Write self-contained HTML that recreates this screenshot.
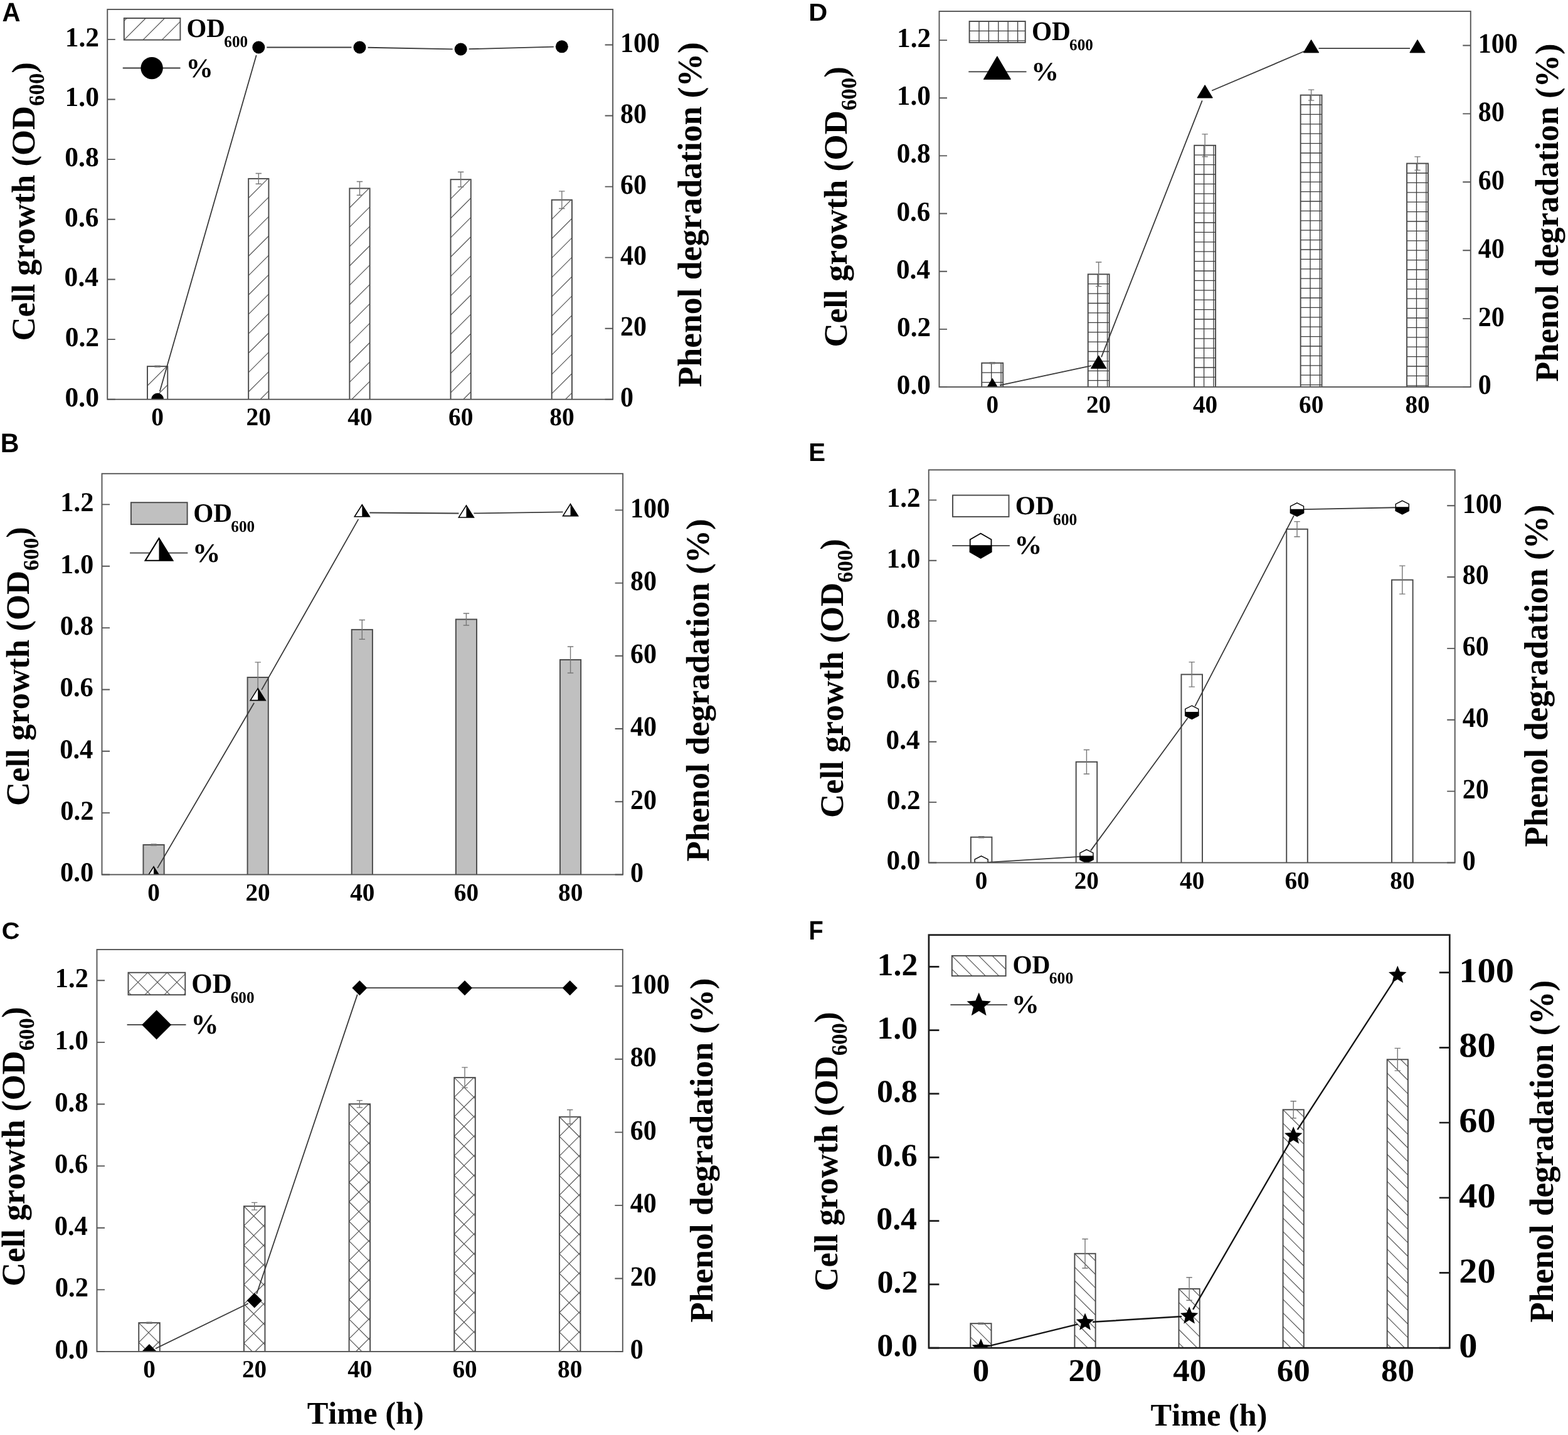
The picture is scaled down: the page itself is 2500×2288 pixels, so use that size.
<!DOCTYPE html>
<html><head><meta charset="utf-8"><title>Figure</title>
<style>
html,body{margin:0;padding:0;background:#fff;}
body{width:2500px;height:2288px;overflow:hidden;}
svg{display:block;}
text{font-kerning:none;text-rendering:geometricPrecision;}
.s{font-family:"Liberation Serif","Times New Roman",serif;font-weight:bold;font-size:100px;fill:#000;}
.a{font-family:"Liberation Sans",Arial,sans-serif;font-weight:bold;font-size:100px;fill:#000;}
</style></head><body>
<svg xmlns="http://www.w3.org/2000/svg" width="2500" height="2288" viewBox="0 0 2500 2288"><defs><clipPath id="clip0"><rect x="171.25" y="15" width="805.85" height="621.75"/></clipPath><clipPath id="clip1"><rect x="162.5" y="755.25" width="830.6" height="639.25"/></clipPath><clipPath id="clip2"><rect x="154.5" y="1514" width="838.3" height="641"/></clipPath><clipPath id="clip3"><rect x="1497.5" y="18" width="847.25" height="599"/></clipPath><clipPath id="clip4"><rect x="1480.75" y="749.25" width="838.9499999999998" height="626.25"/></clipPath><clipPath id="clip5"><rect x="1480.9" y="1490.7" width="830.4000000000001" height="658.4999999999998"/></clipPath></defs><rect width="2500" height="2288" fill="#fff"/><g clip-path="url(#clip0)">
<rect x="235.02" y="584.14" width="32.23" height="52.61" fill="#fff"/>
<path d="M235.02,615.04L265.92,584.14M244.21,636.75L267.25,613.71" stroke="#585858" stroke-width="1.2" fill="none"/>
<rect x="235.02" y="584.14" width="32.23" height="55.61" fill="none" stroke="#484848" stroke-width="1.9"/>
<path d="M251.14,583.18L251.14,585.10M246.44,583.18L255.84,583.18M246.44,585.10L255.84,585.10" stroke="#777" stroke-width="1.4" fill="none"/>
<rect x="396.19" y="284.89" width="32.23" height="351.86" fill="#fff"/>
<path d="M396.19,315.79L427.09,284.89M396.19,346.69L428.42,314.45M396.19,377.59L428.42,345.35M396.19,408.49L428.42,376.25M396.19,439.39L428.42,407.15M396.19,470.29L428.42,438.05M396.19,501.19L428.42,468.95M396.19,532.09L428.42,499.85M396.19,562.99L428.42,530.75M396.19,593.89L428.42,561.65M396.19,624.79L428.42,592.55M415.12,636.75L428.42,623.45" stroke="#585858" stroke-width="1.2" fill="none"/>
<rect x="396.19" y="284.89" width="32.23" height="354.86" fill="none" stroke="#484848" stroke-width="1.9"/>
<path d="M412.31,276.52L412.31,293.26M407.61,276.52L417.00,276.52M407.61,293.26L417.00,293.26" stroke="#777" stroke-width="1.4" fill="none"/>
<rect x="557.36" y="300.38" width="32.23" height="336.37" fill="#fff"/>
<path d="M557.36,331.28L588.26,300.38M557.36,362.18L589.59,329.95M557.36,393.08L589.59,360.85M557.36,423.98L589.59,391.75M557.36,454.88L589.59,422.65M557.36,485.78L589.59,453.55M557.36,516.68L589.59,484.45M557.36,547.58L589.59,515.35M557.36,578.48L589.59,546.25M557.36,609.38L589.59,577.15M560.89,636.75L589.59,608.05" stroke="#585858" stroke-width="1.2" fill="none"/>
<rect x="557.36" y="300.38" width="32.23" height="339.37" fill="none" stroke="#484848" stroke-width="1.9"/>
<path d="M573.47,289.48L573.47,311.29M568.77,289.48L578.17,289.48M568.77,311.29L578.17,311.29" stroke="#777" stroke-width="1.4" fill="none"/>
<rect x="718.53" y="286.18" width="32.23" height="350.57" fill="#fff"/>
<path d="M718.53,317.08L749.43,286.18M718.53,347.98L750.76,315.74M718.53,378.88L750.76,346.64M718.53,409.78L750.76,377.54M718.53,440.68L750.76,408.44M718.53,471.58L750.76,439.34M718.53,502.48L750.76,470.24M718.53,533.38L750.76,501.14M718.53,564.28L750.76,532.04M718.53,595.18L750.76,562.94M718.53,626.08L750.76,593.84M738.76,636.75L750.76,624.74" stroke="#585858" stroke-width="1.2" fill="none"/>
<rect x="718.53" y="286.18" width="32.23" height="353.57" fill="none" stroke="#484848" stroke-width="1.9"/>
<path d="M734.64,274.32L734.64,298.04M729.94,274.32L739.35,274.32M729.94,298.04L739.35,298.04" stroke="#777" stroke-width="1.4" fill="none"/>
<rect x="879.70" y="318.70" width="32.23" height="318.05" fill="#fff"/>
<path d="M879.70,349.60L910.60,318.70M879.70,380.50L911.93,348.27M879.70,411.40L911.93,379.17M879.70,442.30L911.93,410.07M879.70,473.20L911.93,440.97M879.70,504.10L911.93,471.87M879.70,535.00L911.93,502.77M879.70,565.90L911.93,533.67M879.70,596.80L911.93,564.57M879.70,627.70L911.93,595.47M901.55,636.75L911.93,626.37" stroke="#585858" stroke-width="1.2" fill="none"/>
<rect x="879.70" y="318.70" width="32.23" height="321.05" fill="none" stroke="#484848" stroke-width="1.9"/>
<path d="M895.81,304.83L895.81,332.57M891.11,304.83L900.51,304.83M891.11,332.57L900.51,332.57" stroke="#777" stroke-width="1.4" fill="none"/>
<path d="M254.72,624.25L408.72,87.97M425.31,75.48L560.47,75.48M586.47,75.73L721.65,78.29M747.64,78.19L882.82,74.69" stroke="#3a3a3a" stroke-width="1.8" fill="none"/>
<circle cx="251.14" cy="636.75" r="10.00" fill="#000"/>
<circle cx="412.31" cy="75.48" r="10.00" fill="#000"/>
<circle cx="573.47" cy="75.48" r="10.00" fill="#000"/>
<circle cx="734.64" cy="78.53" r="10.00" fill="#000"/>
<circle cx="895.81" cy="74.35" r="10.00" fill="#000"/>
</g>
<rect x="171.25" y="15" width="805.85" height="621.75" fill="none" stroke="#555" stroke-width="1.9"/>
<path d="M171.25,636.75L183.75,636.75M171.25,541.10L183.75,541.10M171.25,445.44L183.75,445.44M171.25,349.79L183.75,349.79M171.25,254.13L183.75,254.13M171.25,158.48L183.75,158.48M171.25,62.83L183.75,62.83M977.10,636.75L964.60,636.75M977.10,523.70L964.60,523.70M977.10,410.66L964.60,410.66M977.10,297.61L964.60,297.61M977.10,184.57L964.60,184.57M977.10,71.52L964.60,71.52" stroke="#555" stroke-width="1.9" fill="none"/>
<text class="s" transform="matrix(0.43600,0,0,0.43900,103.46,647.74)">0.0</text>
<text class="s" transform="matrix(0.43600,0,0,0.43900,103.67,552.08)">0.2</text>
<text class="s" transform="matrix(0.43600,0,0,0.43900,102.61,456.43)">0.4</text>
<text class="s" transform="matrix(0.43600,0,0,0.43900,103.08,360.78)">0.6</text>
<text class="s" transform="matrix(0.43600,0,0,0.43900,103.25,265.12)">0.8</text>
<text class="s" transform="matrix(0.43600,0,0,0.43900,103.46,169.47)">1.0</text>
<text class="s" transform="matrix(0.43600,0,0,0.43900,103.67,73.75)">1.2</text>
<text class="s" transform="matrix(0.42000,0,0,0.44700,989.10,648.20)">0</text>
<text class="s" transform="matrix(0.42000,0,0,0.44700,989.10,535.15)">20</text>
<text class="s" transform="matrix(0.42000,0,0,0.44700,989.10,422.10)">40</text>
<text class="s" transform="matrix(0.42000,0,0,0.44700,989.10,309.06)">60</text>
<text class="s" transform="matrix(0.42000,0,0,0.44700,989.10,196.01)">80</text>
<text class="s" transform="matrix(0.42000,0,0,0.44700,989.10,82.97)">100</text>
<text class="s" transform="matrix(0.39500,0,0,0.40200,241.26,677.92)">0</text>
<text class="s" transform="matrix(0.39500,0,0,0.40200,392.48,677.92)">20</text>
<text class="s" transform="matrix(0.39500,0,0,0.40200,554.21,677.92)">40</text>
<text class="s" transform="matrix(0.39500,0,0,0.40200,714.97,677.92)">60</text>
<text class="s" transform="matrix(0.39500,0,0,0.40200,876.16,677.92)">80</text>
<g transform="matrix(0,-0.52697,0.52680,0,54.95,543.57)"><text class="s" x="0" y="0">Cell growth (OD</text><text class="s" x="710.99" y="28.3" style="font-size:66.0px">600</text><text class="s" x="809.99" y="0">)</text></g>
<text class="s" transform="matrix(0,-0.53510,0.54344,0,1118.01,617.21)">Phenol degradation (%)</text>
<text class="a" transform="matrix(0.40095,0,0,0.42588,3.40,33.70)">A</text>
<rect x="197.8" y="29" width="89.59999999999997" height="34.6" fill="#fff"/>
<path d="M197.80,33.40L202.20,29.00M197.80,63.60L232.40,29.00M228.00,63.60L262.60,29.00M258.20,63.60L287.40,34.40" stroke="#585858" stroke-width="1.2" fill="none"/>
<rect x="197.8" y="29" width="89.59999999999997" height="34.6" fill="none" stroke="#484848" stroke-width="1.9"/>
<text class="s" transform="matrix(0.40860,0,0,0.42270,297.40,59.29)">OD</text>
<text class="s" transform="matrix(0.25215,0,0,0.26230,357.34,75.44)">600</text>
<path d="M195.75,108.5L287.5,108.5" stroke="#3a3a3a" stroke-width="1.8"/>
<circle cx="242.10" cy="108.60" r="17.70" fill="#000"/>
<text class="s" transform="matrix(0.43424,0,0,0.42906,296.45,123.03)">%</text>
<g clip-path="url(#clip1)">
<rect x="228.45" y="1347.00" width="33.22" height="47.50" fill="#c0c0c0"/>
<rect x="228.45" y="1347.00" width="33.22" height="50.50" fill="none" stroke="#484848" stroke-width="1.9"/>
<path d="M245.06,1346.02L245.06,1347.98M240.36,1346.02L249.76,1346.02M240.36,1347.98L249.76,1347.98" stroke="#777" stroke-width="1.4" fill="none"/>
<rect x="394.57" y="1079.99" width="33.22" height="314.51" fill="#c0c0c0"/>
<rect x="394.57" y="1079.99" width="33.22" height="317.51" fill="none" stroke="#484848" stroke-width="1.9"/>
<path d="M411.18,1055.89L411.18,1104.08M406.48,1055.89L415.88,1055.89M406.48,1104.08L415.88,1104.08" stroke="#777" stroke-width="1.4" fill="none"/>
<rect x="560.69" y="1003.87" width="33.22" height="390.63" fill="#c0c0c0"/>
<rect x="560.69" y="1003.87" width="33.22" height="393.63" fill="none" stroke="#484848" stroke-width="1.9"/>
<path d="M577.30,988.43L577.30,1019.31M572.60,988.43L582.00,988.43M572.60,1019.31L582.00,1019.31" stroke="#777" stroke-width="1.4" fill="none"/>
<rect x="726.81" y="987.49" width="33.22" height="407.01" fill="#c0c0c0"/>
<rect x="726.81" y="987.49" width="33.22" height="410.01" fill="none" stroke="#484848" stroke-width="1.9"/>
<path d="M743.42,978.00L743.42,996.98M738.72,978.00L748.12,978.00M738.72,996.98L748.12,996.98" stroke="#777" stroke-width="1.4" fill="none"/>
<rect x="892.93" y="1051.96" width="33.22" height="342.54" fill="#c0c0c0"/>
<rect x="892.93" y="1051.96" width="33.22" height="345.54" fill="none" stroke="#484848" stroke-width="1.9"/>
<path d="M909.54,1030.96L909.54,1072.96M904.84,1030.96L914.24,1030.96M904.84,1072.96L914.24,1072.96" stroke="#777" stroke-width="1.4" fill="none"/>
<path d="M251.12,1384.14L405.12,1120.68M417.10,1099.89L571.38,827.87M589.30,817.52L731.42,818.51M755.42,818.43L897.54,816.44" stroke="#3a3a3a" stroke-width="1.8" fill="none"/>
<path d="M245.06,1381.83L257.06,1400.83L233.06,1400.83Z" fill="#fff" stroke="#000" stroke-width="1.6" stroke-linejoin="miter"/><path d="M245.06,1381.83L257.06,1400.83L245.06,1400.83Z" fill="#000"/>
<path d="M411.18,1097.66L423.18,1116.66L399.18,1116.66Z" fill="#fff" stroke="#000" stroke-width="1.6" stroke-linejoin="miter"/><path d="M411.18,1097.66L423.18,1116.66L411.18,1116.66Z" fill="#000"/>
<path d="M577.30,804.76L589.30,823.76L565.30,823.76Z" fill="#fff" stroke="#000" stroke-width="1.6" stroke-linejoin="miter"/><path d="M577.30,804.76L589.30,823.76L577.30,823.76Z" fill="#000"/>
<path d="M743.42,805.93L755.42,824.93L731.42,824.93Z" fill="#fff" stroke="#000" stroke-width="1.6" stroke-linejoin="miter"/><path d="M743.42,805.93L755.42,824.93L743.42,824.93Z" fill="#000"/>
<path d="M909.54,803.60L921.54,822.60L897.54,822.60Z" fill="#fff" stroke="#000" stroke-width="1.6" stroke-linejoin="miter"/><path d="M909.54,803.60L921.54,822.60L909.54,822.60Z" fill="#000"/>
</g>
<rect x="162.5" y="755.25" width="830.6" height="639.25" fill="none" stroke="#555" stroke-width="1.9"/>
<path d="M162.50,1394.50L175.00,1394.50M162.50,1296.15L175.00,1296.15M162.50,1197.81L175.00,1197.81M162.50,1099.46L175.00,1099.46M162.50,1001.12L175.00,1001.12M162.50,902.77L175.00,902.77M162.50,804.42L175.00,804.42M993.10,1394.50L980.60,1394.50M993.10,1278.27L980.60,1278.27M993.10,1162.05L980.60,1162.05M993.10,1045.82L980.60,1045.82M993.10,929.59L980.60,929.59M993.10,813.36L980.60,813.36" stroke="#555" stroke-width="1.9" fill="none"/>
<text class="s" transform="matrix(0.42600,0,0,0.43500,95.97,1405.36)">0.0</text>
<text class="s" transform="matrix(0.42600,0,0,0.43500,96.18,1307.01)">0.2</text>
<text class="s" transform="matrix(0.42600,0,0,0.43500,95.14,1208.66)">0.4</text>
<text class="s" transform="matrix(0.42600,0,0,0.43500,95.60,1110.32)">0.6</text>
<text class="s" transform="matrix(0.42600,0,0,0.43500,95.76,1011.97)">0.8</text>
<text class="s" transform="matrix(0.42600,0,0,0.43500,95.97,913.63)">1.0</text>
<text class="s" transform="matrix(0.42600,0,0,0.43500,96.18,815.22)">1.2</text>
<text class="s" transform="matrix(0.42000,0,0,0.44700,1005.10,1405.95)">0</text>
<text class="s" transform="matrix(0.42000,0,0,0.44700,1005.10,1289.72)">20</text>
<text class="s" transform="matrix(0.42000,0,0,0.44700,1005.10,1173.49)">40</text>
<text class="s" transform="matrix(0.42000,0,0,0.44700,1005.10,1057.26)">60</text>
<text class="s" transform="matrix(0.42000,0,0,0.44700,1005.10,941.04)">80</text>
<text class="s" transform="matrix(0.42000,0,0,0.44700,1005.10,824.81)">100</text>
<text class="s" transform="matrix(0.39300,0,0,0.39500,235.24,1436.34)">0</text>
<text class="s" transform="matrix(0.39300,0,0,0.39500,391.45,1436.34)">20</text>
<text class="s" transform="matrix(0.39300,0,0,0.39500,558.13,1436.34)">40</text>
<text class="s" transform="matrix(0.39300,0,0,0.39500,723.85,1436.34)">60</text>
<text class="s" transform="matrix(0.39300,0,0,0.39500,889.99,1436.34)">80</text>
<g transform="matrix(0,-0.52757,0.52375,0,45.84,1284.98)"><text class="s" x="0" y="0">Cell growth (OD</text><text class="s" x="710.99" y="28.3" style="font-size:66.0px">600</text><text class="s" x="809.99" y="0">)</text></g>
<text class="s" transform="matrix(0,-0.53177,0.52266,0,1129.66,1373.81)">Phenol degradation (%)</text>
<text class="a" transform="matrix(0.41157,0,0,0.43024,0.65,720.50)">B</text>
<rect x="208.9" y="801.2" width="89.70000000000002" height="34.89999999999998" fill="#c0c0c0"/>
<rect x="208.9" y="801.2" width="89.70000000000002" height="34.89999999999998" fill="none" stroke="#484848" stroke-width="1.9"/>
<text class="s" transform="matrix(0.41217,0,0,0.42270,308.29,832.19)">OD</text>
<text class="s" transform="matrix(0.25215,0,0,0.25933,368.34,848.15)">600</text>
<path d="M207.1,881.7L299.3,881.7" stroke="#3a3a3a" stroke-width="1.8"/>
<path d="M253.50,858.23L275.30,893.73L231.70,893.73Z" fill="#fff" stroke="#000" stroke-width="2.2" stroke-linejoin="miter"/><path d="M253.50,858.23L275.30,893.73L253.50,893.73Z" fill="#000"/>
<text class="s" transform="matrix(0.44792,0,0,0.42611,306.81,895.84)">%</text>
<g clip-path="url(#clip2)">
<rect x="221.26" y="2109.14" width="33.53" height="45.86" fill="#fff"/>
<path d="M221.26,2140.34L252.46,2109.14M237.81,2155.00L254.80,2138.01M221.26,2109.14L254.80,2142.68M252.46,2109.14L254.80,2111.48M221.26,2140.34L235.92,2155.00" stroke="#585858" stroke-width="1.2" fill="none"/>
<rect x="221.26" y="2109.14" width="33.53" height="48.86" fill="none" stroke="#484848" stroke-width="1.9"/>
<path d="M238.03,2108.16L238.03,2110.13M233.33,2108.16L242.73,2108.16M233.33,2110.13L242.73,2110.13" stroke="#777" stroke-width="1.4" fill="none"/>
<rect x="388.92" y="1923.25" width="33.53" height="231.75" fill="#fff"/>
<path d="M388.92,1954.45L420.12,1923.25M388.92,1985.65L422.46,1952.12M388.92,2016.85L422.46,1983.32M388.92,2048.05L422.46,2014.52M388.92,2079.25L422.46,2045.72M388.92,2110.45L422.46,2076.92M388.92,2141.65L422.46,2108.12M406.78,2155.00L422.46,2139.32M388.92,1923.25L422.46,1956.79M420.12,1923.25L422.46,1925.59M388.92,1954.45L422.46,1987.99M388.92,1985.65L422.46,2019.19M388.92,2016.85L422.46,2050.39M388.92,2048.05L422.46,2081.59M388.92,2079.25L422.46,2112.79M388.92,2110.45L422.46,2143.99M388.92,2141.65L402.27,2155.00" stroke="#585858" stroke-width="1.2" fill="none"/>
<rect x="388.92" y="1923.25" width="33.53" height="234.75" fill="none" stroke="#484848" stroke-width="1.9"/>
<path d="M405.69,1917.34L405.69,1929.17M400.99,1917.34L410.39,1917.34M400.99,1929.17L410.39,1929.17" stroke="#777" stroke-width="1.4" fill="none"/>
<rect x="556.58" y="1760.24" width="33.53" height="394.76" fill="#fff"/>
<path d="M556.58,1791.44L587.78,1760.24M556.58,1822.64L590.12,1789.11M556.58,1853.84L590.12,1820.31M556.58,1885.04L590.12,1851.51M556.58,1916.24L590.12,1882.71M556.58,1947.44L590.12,1913.91M556.58,1978.64L590.12,1945.11M556.58,2009.84L590.12,1976.31M556.58,2041.04L590.12,2007.51M556.58,2072.24L590.12,2038.71M556.58,2103.44L590.12,2069.91M556.58,2134.64L590.12,2101.11M567.43,2155.00L590.12,2132.31M556.58,1760.24L590.12,1793.77M587.78,1760.24L590.12,1762.57M556.58,1791.44L590.12,1824.97M556.58,1822.64L590.12,1856.17M556.58,1853.84L590.12,1887.37M556.58,1885.04L590.12,1918.57M556.58,1916.24L590.12,1949.77M556.58,1947.44L590.12,1980.97M556.58,1978.64L590.12,2012.17M556.58,2009.84L590.12,2043.37M556.58,2041.04L590.12,2074.57M556.58,2072.24L590.12,2105.77M556.58,2103.44L590.12,2136.97M556.58,2134.64L576.94,2155.00" stroke="#585858" stroke-width="1.2" fill="none"/>
<rect x="556.58" y="1760.24" width="33.53" height="397.76" fill="none" stroke="#484848" stroke-width="1.9"/>
<path d="M573.35,1754.62L573.35,1765.86M568.65,1754.62L578.05,1754.62M568.65,1765.86L578.05,1765.86" stroke="#777" stroke-width="1.4" fill="none"/>
<rect x="724.24" y="1718.13" width="33.53" height="436.87" fill="#fff"/>
<path d="M724.24,1749.33L755.44,1718.13M724.24,1780.53L757.78,1747.00M724.24,1811.73L757.78,1778.20M724.24,1842.93L757.78,1809.40M724.24,1874.13L757.78,1840.60M724.24,1905.33L757.78,1871.80M724.24,1936.53L757.78,1903.00M724.24,1967.73L757.78,1934.20M724.24,1998.93L757.78,1965.40M724.24,2030.13L757.78,1996.60M724.24,2061.33L757.78,2027.80M724.24,2092.53L757.78,2059.00M724.24,2123.73L757.78,2090.20M724.24,2154.93L757.78,2121.40M755.38,2155.00L757.78,2152.60M724.24,1718.13L757.78,1751.67M755.44,1718.13L757.78,1720.47M724.24,1749.33L757.78,1782.87M724.24,1780.53L757.78,1814.07M724.24,1811.73L757.78,1845.27M724.24,1842.93L757.78,1876.47M724.24,1874.13L757.78,1907.67M724.24,1905.33L757.78,1938.87M724.24,1936.53L757.78,1970.07M724.24,1967.73L757.78,2001.27M724.24,1998.93L757.78,2032.47M724.24,2030.13L757.78,2063.67M724.24,2061.33L757.78,2094.87M724.24,2092.53L757.78,2126.07M724.24,2123.73L755.51,2155.00" stroke="#585858" stroke-width="1.2" fill="none"/>
<rect x="724.24" y="1718.13" width="33.53" height="439.87" fill="none" stroke="#484848" stroke-width="1.9"/>
<path d="M741.01,1701.86L741.01,1734.41M736.31,1701.86L745.71,1701.86M736.31,1734.41L745.71,1734.41" stroke="#777" stroke-width="1.4" fill="none"/>
<rect x="891.90" y="1780.75" width="33.53" height="374.25" fill="#fff"/>
<path d="M891.90,1811.95L923.10,1780.75M891.90,1843.15L925.44,1809.62M891.90,1874.35L925.44,1840.82M891.90,1905.55L925.44,1872.02M891.90,1936.75L925.44,1903.22M891.90,1967.95L925.44,1934.42M891.90,1999.15L925.44,1965.62M891.90,2030.35L925.44,1996.82M891.90,2061.55L925.44,2028.02M891.90,2092.75L925.44,2059.22M891.90,2123.95L925.44,2090.42M892.06,2155.00L925.44,2121.62M923.26,2155.00L925.44,2152.82M891.90,1780.75L925.44,1814.29M923.10,1780.75L925.44,1783.09M891.90,1811.95L925.44,1845.49M891.90,1843.15L925.44,1876.69M891.90,1874.35L925.44,1907.89M891.90,1905.55L925.44,1939.09M891.90,1936.75L925.44,1970.29M891.90,1967.95L925.44,2001.49M891.90,1999.15L925.44,2032.69M891.90,2030.35L925.44,2063.89M891.90,2061.55L925.44,2095.09M891.90,2092.75L925.44,2126.29M891.90,2123.95L922.95,2155.00" stroke="#585858" stroke-width="1.2" fill="none"/>
<rect x="891.90" y="1780.75" width="33.53" height="377.25" fill="none" stroke="#484848" stroke-width="1.9"/>
<path d="M908.67,1769.51L908.67,1792.00M903.97,1769.51L913.37,1769.51M903.97,1792.00L913.37,1792.00" stroke="#777" stroke-width="1.4" fill="none"/>
<path d="M247.92,2150.19L395.80,2078.23M409.20,2062.99L569.84,1585.61M584.35,1575.19L730.01,1575.19M752.01,1575.19L897.67,1575.19" stroke="#3a3a3a" stroke-width="1.8" fill="none"/>
<path d="M238.03,2143.00L250.03,2155.00L238.03,2167.00L226.03,2155.00Z" fill="#000"/>
<path d="M405.69,2061.42L417.69,2073.42L405.69,2085.42L393.69,2073.42Z" fill="#000"/>
<path d="M573.35,1563.19L585.35,1575.19L573.35,1587.19L561.35,1575.19Z" fill="#000"/>
<path d="M741.01,1563.19L753.01,1575.19L741.01,1587.19L729.01,1575.19Z" fill="#000"/>
<path d="M908.67,1563.19L920.67,1575.19L908.67,1587.19L896.67,1575.19Z" fill="#000"/>
</g>
<rect x="154.5" y="1514" width="838.3" height="641" fill="none" stroke="#555" stroke-width="1.9"/>
<path d="M154.50,2155.00L167.00,2155.00M154.50,2056.38L167.00,2056.38M154.50,1957.77L167.00,1957.77M154.50,1859.15L167.00,1859.15M154.50,1760.54L167.00,1760.54M154.50,1661.92L167.00,1661.92M154.50,1563.31L167.00,1563.31M992.80,2155.00L980.30,2155.00M992.80,2038.45L980.30,2038.45M992.80,1921.91L980.30,1921.91M992.80,1805.36L980.30,1805.36M992.80,1688.82L980.30,1688.82M992.80,1572.27L980.30,1572.27" stroke="#555" stroke-width="1.9" fill="none"/>
<text class="s" transform="matrix(0.42600,0,0,0.43900,87.47,2165.99)">0.0</text>
<text class="s" transform="matrix(0.42600,0,0,0.43900,87.68,2067.37)">0.2</text>
<text class="s" transform="matrix(0.42600,0,0,0.43900,86.64,1968.76)">0.4</text>
<text class="s" transform="matrix(0.42600,0,0,0.43900,87.10,1870.14)">0.6</text>
<text class="s" transform="matrix(0.42600,0,0,0.43900,87.26,1771.53)">0.8</text>
<text class="s" transform="matrix(0.42600,0,0,0.43900,87.47,1672.91)">1.0</text>
<text class="s" transform="matrix(0.42600,0,0,0.43900,87.68,1574.23)">1.2</text>
<text class="s" transform="matrix(0.42000,0,0,0.44700,1004.80,2166.45)">0</text>
<text class="s" transform="matrix(0.42000,0,0,0.44700,1004.80,2049.90)">20</text>
<text class="s" transform="matrix(0.42000,0,0,0.44700,1004.80,1933.35)">40</text>
<text class="s" transform="matrix(0.42000,0,0,0.44700,1004.80,1816.81)">60</text>
<text class="s" transform="matrix(0.42000,0,0,0.44700,1004.80,1700.26)">80</text>
<text class="s" transform="matrix(0.42000,0,0,0.44700,1004.80,1583.72)">100</text>
<text class="s" transform="matrix(0.39300,0,0,0.39500,228.20,2196.14)">0</text>
<text class="s" transform="matrix(0.39300,0,0,0.39500,385.96,2196.14)">20</text>
<text class="s" transform="matrix(0.39300,0,0,0.39500,554.18,2196.14)">40</text>
<text class="s" transform="matrix(0.39300,0,0,0.39500,721.44,2196.14)">60</text>
<text class="s" transform="matrix(0.39300,0,0,0.39500,889.12,2196.14)">80</text>
<g transform="matrix(0,-0.52817,0.52680,0,38.95,2050.88)"><text class="s" x="0" y="0">Cell growth (OD</text><text class="s" x="710.99" y="28.3" style="font-size:66.0px">600</text><text class="s" x="809.99" y="0">)</text></g>
<text class="s" transform="matrix(0,-0.53451,0.52157,0,1135.69,2108.81)">Phenol degradation (%)</text>
<text class="s" transform="matrix(0.50395,0,0,0.50290,489.71,2270.29)">Time (h)</text>
<text class="a" transform="matrix(0.39767,0,0,0.37782,2.87,1497.13)">C</text>
<rect x="204.5" y="1550.7" width="90.80000000000001" height="35.5" fill="#fff"/>
<path d="M204.50,1581.70L235.50,1550.70M231.00,1586.20L266.50,1550.70M262.00,1586.20L295.30,1552.90M293.00,1586.20L295.30,1583.90M204.50,1550.70L240.00,1586.20M235.50,1550.70L271.00,1586.20M266.50,1550.70L295.30,1579.50M204.50,1581.70L209.00,1586.20" stroke="#585858" stroke-width="1.2" fill="none"/>
<rect x="204.5" y="1550.7" width="90.80000000000001" height="35.5" fill="none" stroke="#484848" stroke-width="1.9"/>
<text class="s" transform="matrix(0.42857,0,0,0.44651,305.31,1582.66)">OD</text>
<text class="s" transform="matrix(0.25215,0,0,0.25933,367.74,1598.75)">600</text>
<path d="M202.6,1633.9L296.5,1633.9" stroke="#3a3a3a" stroke-width="1.8"/>
<path d="M249.60,1610.40L273.10,1633.90L249.60,1657.40L226.10,1633.90Z" fill="#000"/>
<text class="s" transform="matrix(0.44170,0,0,0.44381,304.57,1647.51)">%</text>
<g clip-path="url(#clip3)">
<rect x="1565.28" y="578.76" width="33.89" height="38.24" fill="#fff"/>
<path d="M1565.28,594.16L1599.17,594.16M1565.28,609.56L1599.17,609.56M1580.68,578.76L1580.68,617.00M1596.08,578.76L1596.08,617.00" stroke="#3c3c3c" stroke-width="1.3" fill="none"/>
<rect x="1565.28" y="578.76" width="33.89" height="41.24" fill="none" stroke="#484848" stroke-width="1.9"/>
<path d="M1582.22,577.83L1582.22,579.68M1577.52,577.83L1586.92,577.83M1577.52,579.68L1586.92,579.68" stroke="#777" stroke-width="1.4" fill="none"/>
<rect x="1734.73" y="437.30" width="33.89" height="179.70" fill="#fff"/>
<path d="M1734.73,452.70L1768.62,452.70M1734.73,468.10L1768.62,468.10M1734.73,483.50L1768.62,483.50M1734.73,498.90L1768.62,498.90M1734.73,514.30L1768.62,514.30M1734.73,529.70L1768.62,529.70M1734.73,545.10L1768.62,545.10M1734.73,560.50L1768.62,560.50M1734.73,575.90L1768.62,575.90M1734.73,591.30L1768.62,591.30M1734.73,606.70L1768.62,606.70M1750.13,437.30L1750.13,617.00M1765.53,437.30L1765.53,617.00" stroke="#3c3c3c" stroke-width="1.3" fill="none"/>
<rect x="1734.73" y="437.30" width="33.89" height="182.70" fill="none" stroke="#484848" stroke-width="1.9"/>
<path d="M1751.67,417.95L1751.67,456.65M1746.97,417.95L1756.38,417.95M1746.97,456.65L1756.38,456.65" stroke="#777" stroke-width="1.4" fill="none"/>
<rect x="1904.18" y="231.80" width="33.89" height="385.20" fill="#fff"/>
<path d="M1904.18,247.20L1938.07,247.20M1904.18,262.60L1938.07,262.60M1904.18,278.00L1938.07,278.00M1904.18,293.40L1938.07,293.40M1904.18,308.80L1938.07,308.80M1904.18,324.20L1938.07,324.20M1904.18,339.60L1938.07,339.60M1904.18,355.00L1938.07,355.00M1904.18,370.40L1938.07,370.40M1904.18,385.80L1938.07,385.80M1904.18,401.20L1938.07,401.20M1904.18,416.60L1938.07,416.60M1904.18,432.00L1938.07,432.00M1904.18,447.40L1938.07,447.40M1904.18,462.80L1938.07,462.80M1904.18,478.20L1938.07,478.20M1904.18,493.60L1938.07,493.60M1904.18,509.00L1938.07,509.00M1904.18,524.40L1938.07,524.40M1904.18,539.80L1938.07,539.80M1904.18,555.20L1938.07,555.20M1904.18,570.60L1938.07,570.60M1904.18,586.00L1938.07,586.00M1904.18,601.40L1938.07,601.40M1919.58,231.80L1919.58,617.00M1934.98,231.80L1934.98,617.00" stroke="#3c3c3c" stroke-width="1.3" fill="none"/>
<rect x="1904.18" y="231.80" width="33.89" height="388.20" fill="none" stroke="#484848" stroke-width="1.9"/>
<path d="M1921.12,213.83L1921.12,249.77M1916.42,213.83L1925.83,213.83M1916.42,249.77L1925.83,249.77" stroke="#777" stroke-width="1.4" fill="none"/>
<rect x="2073.63" y="151.62" width="33.89" height="465.38" fill="#fff"/>
<path d="M2073.63,167.02L2107.52,167.02M2073.63,182.42L2107.52,182.42M2073.63,197.82L2107.52,197.82M2073.63,213.22L2107.52,213.22M2073.63,228.62L2107.52,228.62M2073.63,244.02L2107.52,244.02M2073.63,259.42L2107.52,259.42M2073.63,274.82L2107.52,274.82M2073.63,290.22L2107.52,290.22M2073.63,305.62L2107.52,305.62M2073.63,321.02L2107.52,321.02M2073.63,336.42L2107.52,336.42M2073.63,351.82L2107.52,351.82M2073.63,367.22L2107.52,367.22M2073.63,382.62L2107.52,382.62M2073.63,398.02L2107.52,398.02M2073.63,413.42L2107.52,413.42M2073.63,428.82L2107.52,428.82M2073.63,444.22L2107.52,444.22M2073.63,459.62L2107.52,459.62M2073.63,475.02L2107.52,475.02M2073.63,490.42L2107.52,490.42M2073.63,505.82L2107.52,505.82M2073.63,521.22L2107.52,521.22M2073.63,536.62L2107.52,536.62M2073.63,552.02L2107.52,552.02M2073.63,567.42L2107.52,567.42M2073.63,582.82L2107.52,582.82M2073.63,598.22L2107.52,598.22M2073.63,613.62L2107.52,613.62M2089.03,151.62L2089.03,617.00M2104.43,151.62L2104.43,617.00" stroke="#3c3c3c" stroke-width="1.3" fill="none"/>
<rect x="2073.63" y="151.62" width="33.89" height="468.38" fill="none" stroke="#484848" stroke-width="1.9"/>
<path d="M2090.57,143.10L2090.57,160.15M2085.88,143.10L2095.27,143.10M2085.88,160.15L2095.27,160.15" stroke="#777" stroke-width="1.4" fill="none"/>
<rect x="2243.08" y="260.60" width="33.89" height="356.40" fill="#fff"/>
<path d="M2243.08,276.00L2276.97,276.00M2243.08,291.39L2276.97,291.39M2243.08,306.79L2276.97,306.79M2243.08,322.19L2276.97,322.19M2243.08,337.59L2276.97,337.59M2243.08,352.99L2276.97,352.99M2243.08,368.39L2276.97,368.39M2243.08,383.79L2276.97,383.79M2243.08,399.19L2276.97,399.19M2243.08,414.59L2276.97,414.59M2243.08,429.99L2276.97,429.99M2243.08,445.39L2276.97,445.39M2243.08,460.79L2276.97,460.79M2243.08,476.19L2276.97,476.19M2243.08,491.59L2276.97,491.59M2243.08,506.99L2276.97,506.99M2243.08,522.39L2276.97,522.39M2243.08,537.79L2276.97,537.79M2243.08,553.19L2276.97,553.19M2243.08,568.59L2276.97,568.59M2243.08,583.99L2276.97,583.99M2243.08,599.39L2276.97,599.39M2243.08,614.79L2276.97,614.79M2258.48,260.60L2258.48,617.00M2273.88,260.60L2273.88,617.00" stroke="#3c3c3c" stroke-width="1.3" fill="none"/>
<rect x="2243.08" y="260.60" width="33.89" height="359.40" fill="none" stroke="#484848" stroke-width="1.9"/>
<path d="M2260.03,249.86L2260.03,271.33M2255.33,249.86L2264.72,249.86M2255.33,271.33L2264.72,271.33" stroke="#777" stroke-width="1.4" fill="none"/>
<path d="M1593.96,614.47L1739.94,583.04M1756.06,569.35L1916.74,160.40M1932.17,144.53L2079.53,81.78M2102.57,77.08L2248.03,77.08" stroke="#3a3a3a" stroke-width="1.8" fill="none"/>
<path d="M1582.22,603.40L1594.42,623.80L1570.02,623.80Z" fill="#000" stroke="#000" stroke-width="1" stroke-linejoin="miter"/>
<path d="M1751.67,566.92L1763.88,587.32L1739.47,587.32Z" fill="#000" stroke="#000" stroke-width="1" stroke-linejoin="miter"/>
<path d="M1921.12,135.64L1933.33,156.04L1908.92,156.04Z" fill="#000" stroke="#000" stroke-width="1" stroke-linejoin="miter"/>
<path d="M2090.57,63.48L2102.77,83.88L2078.38,83.88Z" fill="#000" stroke="#000" stroke-width="1" stroke-linejoin="miter"/>
<path d="M2260.03,63.48L2272.22,83.88L2247.83,83.88Z" fill="#000" stroke="#000" stroke-width="1" stroke-linejoin="miter"/>
</g>
<rect x="1497.5" y="18" width="847.25" height="599" fill="none" stroke="#555" stroke-width="1.9"/>
<path d="M1497.50,617.00L1510.00,617.00M1497.50,524.85L1510.00,524.85M1497.50,432.69L1510.00,432.69M1497.50,340.54L1510.00,340.54M1497.50,248.38L1510.00,248.38M1497.50,156.23L1510.00,156.23M1497.50,64.08L1510.00,64.08M2344.75,617.00L2332.25,617.00M2344.75,508.09L2332.25,508.09M2344.75,399.18L2332.25,399.18M2344.75,290.27L2332.25,290.27M2344.75,181.36L2332.25,181.36M2344.75,72.45L2332.25,72.45" stroke="#555" stroke-width="1.9" fill="none"/>
<text class="s" transform="matrix(0.43200,0,0,0.43900,1429.85,627.99)">0.0</text>
<text class="s" transform="matrix(0.43200,0,0,0.43900,1430.06,535.83)">0.2</text>
<text class="s" transform="matrix(0.43200,0,0,0.43900,1429.00,443.68)">0.4</text>
<text class="s" transform="matrix(0.43200,0,0,0.43900,1429.47,351.53)">0.6</text>
<text class="s" transform="matrix(0.43200,0,0,0.43900,1429.63,259.37)">0.8</text>
<text class="s" transform="matrix(0.43200,0,0,0.43900,1429.85,167.22)">1.0</text>
<text class="s" transform="matrix(0.43200,0,0,0.43900,1430.06,75.00)">1.2</text>
<text class="s" transform="matrix(0.42000,0,0,0.44700,2356.75,628.45)">0</text>
<text class="s" transform="matrix(0.42000,0,0,0.44700,2356.75,519.54)">20</text>
<text class="s" transform="matrix(0.42000,0,0,0.44700,2356.75,410.63)">40</text>
<text class="s" transform="matrix(0.42000,0,0,0.44700,2356.75,301.72)">60</text>
<text class="s" transform="matrix(0.42000,0,0,0.44700,2356.75,192.81)">80</text>
<text class="s" transform="matrix(0.42000,0,0,0.44700,2356.75,83.90)">100</text>
<text class="s" transform="matrix(0.39300,0,0,0.39500,1572.40,657.99)">0</text>
<text class="s" transform="matrix(0.39300,0,0,0.39500,1731.95,657.99)">20</text>
<text class="s" transform="matrix(0.39300,0,0,0.39500,1901.95,657.99)">40</text>
<text class="s" transform="matrix(0.39300,0,0,0.39500,2071.00,657.99)">60</text>
<text class="s" transform="matrix(0.39300,0,0,0.39500,2240.47,657.99)">80</text>
<g transform="matrix(0,-0.53081,0.52375,0,1350.04,553.59)"><text class="s" x="0" y="0">Cell growth (OD</text><text class="s" x="710.99" y="28.3" style="font-size:66.0px">600</text><text class="s" x="809.99" y="0">)</text></g>
<text class="s" transform="matrix(0,-0.52463,0.52485,0,2484.02,608.80)">Phenol degradation (%)</text>
<text class="a" transform="matrix(0.41580,0,0,0.39245,1289.22,33.25)">D</text>
<rect x="1545.6" y="34" width="89.10000000000014" height="33.8" fill="#fff"/>
<path d="M1545.60,49.40L1634.70,49.40M1545.60,64.80L1634.70,64.80M1561.00,34.00L1561.00,67.80M1576.40,34.00L1576.40,67.80M1591.80,34.00L1591.80,67.80M1607.20,34.00L1607.20,67.80M1622.60,34.00L1622.60,67.80" stroke="#3c3c3c" stroke-width="1.3" fill="none"/>
<rect x="1545.6" y="34" width="89.10000000000014" height="33.8" fill="none" stroke="#484848" stroke-width="1.9"/>
<text class="s" transform="matrix(0.41288,0,0,0.43014,1644.88,64.38)">OD</text>
<text class="s" transform="matrix(0.25215,0,0,0.25785,1705.04,79.85)">600</text>
<path d="M1544.3,114.3L1636.5,114.3" stroke="#3a3a3a" stroke-width="1.8"/>
<path d="M1589.90,89.80L1611.45,126.40L1568.35,126.40Z" fill="#000" stroke="#000" stroke-width="1" stroke-linejoin="miter"/>
<text class="s" transform="matrix(0.44170,0,0,0.41874,1643.97,127.65)">%</text>
<g clip-path="url(#clip4)">
<rect x="1547.87" y="1334.75" width="33.56" height="40.75" fill="#fff"/>
<rect x="1547.87" y="1334.75" width="33.56" height="43.75" fill="none" stroke="#484848" stroke-width="1.9"/>
<path d="M1564.64,1333.78L1564.64,1335.71M1559.94,1333.78L1569.35,1333.78M1559.94,1335.71L1569.35,1335.71" stroke="#777" stroke-width="1.4" fill="none"/>
<rect x="1715.66" y="1214.79" width="33.56" height="160.71" fill="#fff"/>
<rect x="1715.66" y="1214.79" width="33.56" height="163.71" fill="none" stroke="#484848" stroke-width="1.9"/>
<path d="M1732.43,1195.53L1732.43,1234.06M1727.73,1195.53L1737.13,1195.53M1727.73,1234.06L1737.13,1234.06" stroke="#777" stroke-width="1.4" fill="none"/>
<rect x="1883.45" y="1075.38" width="33.56" height="300.12" fill="#fff"/>
<rect x="1883.45" y="1075.38" width="33.56" height="303.12" fill="none" stroke="#484848" stroke-width="1.9"/>
<path d="M1900.22,1055.63L1900.22,1095.13M1895.52,1055.63L1904.92,1055.63M1895.52,1095.13L1904.92,1095.13" stroke="#777" stroke-width="1.4" fill="none"/>
<rect x="2051.24" y="843.67" width="33.56" height="531.83" fill="#fff"/>
<rect x="2051.24" y="843.67" width="33.56" height="534.83" fill="none" stroke="#484848" stroke-width="1.9"/>
<path d="M2068.01,831.63L2068.01,855.71M2063.32,831.63L2072.71,831.63M2063.32,855.71L2072.71,855.71" stroke="#777" stroke-width="1.4" fill="none"/>
<rect x="2219.03" y="924.60" width="33.56" height="450.90" fill="#fff"/>
<rect x="2219.03" y="924.60" width="33.56" height="453.90" fill="none" stroke="#484848" stroke-width="1.9"/>
<path d="M2235.80,902.10L2235.80,947.10M2231.11,902.10L2240.50,902.10M2231.11,947.10L2240.50,947.10" stroke="#777" stroke-width="1.4" fill="none"/>
<path d="M1575.62,1374.83L1721.46,1365.92M1738.93,1356.37L1893.73,1144.70M1905.29,1126.05L2062.95,822.21M2079.01,812.22L2224.81,809.25" stroke="#3a3a3a" stroke-width="1.8" fill="none"/>
<path d="M1564.64,1364.88L1575.14,1370.19L1575.14,1380.81L1564.64,1386.12L1554.14,1380.81L1554.14,1370.19Z" fill="#fff" stroke="#000" stroke-width="1.4"/><path d="M1554.14,1375.50L1575.14,1375.50L1575.14,1380.81L1564.64,1386.12L1554.14,1380.81Z" fill="#000" stroke="#000" stroke-width="1.4" stroke-linejoin="miter"/>
<path d="M1732.43,1354.63L1742.93,1359.94L1742.93,1370.56L1732.43,1375.88L1721.93,1370.56L1721.93,1359.94Z" fill="#fff" stroke="#000" stroke-width="1.4"/><path d="M1721.93,1365.25L1742.93,1365.25L1742.93,1370.56L1732.43,1375.88L1721.93,1370.56Z" fill="#000" stroke="#000" stroke-width="1.4" stroke-linejoin="miter"/>
<path d="M1900.22,1125.19L1910.72,1130.50L1910.72,1141.13L1900.22,1146.44L1889.72,1141.13L1889.72,1130.50Z" fill="#fff" stroke="#000" stroke-width="1.4"/><path d="M1889.72,1135.82L1910.72,1135.82L1910.72,1141.13L1900.22,1146.44L1889.72,1141.13Z" fill="#000" stroke="#000" stroke-width="1.4" stroke-linejoin="miter"/>
<path d="M2068.01,801.82L2078.51,807.13L2078.51,817.76L2068.01,823.07L2057.51,817.76L2057.51,807.13Z" fill="#fff" stroke="#000" stroke-width="1.4"/><path d="M2057.51,812.44L2078.51,812.44L2078.51,817.76L2068.01,823.07L2057.51,817.76Z" fill="#000" stroke="#000" stroke-width="1.4" stroke-linejoin="miter"/>
<path d="M2235.80,798.40L2246.30,803.72L2246.30,814.34L2235.80,819.65L2225.30,814.34L2225.30,803.72Z" fill="#fff" stroke="#000" stroke-width="1.4"/><path d="M2225.30,809.03L2246.30,809.03L2246.30,814.34L2235.80,819.65L2225.30,814.34Z" fill="#000" stroke="#000" stroke-width="1.4" stroke-linejoin="miter"/>
</g>
<rect x="1480.75" y="749.25" width="838.9499999999998" height="626.25" fill="none" stroke="#555" stroke-width="1.9"/>
<path d="M1480.75,1375.50L1493.25,1375.50M1480.75,1279.15L1493.25,1279.15M1480.75,1182.81L1493.25,1182.81M1480.75,1086.46L1493.25,1086.46M1480.75,990.12L1493.25,990.12M1480.75,893.77L1493.25,893.77M1480.75,797.42L1493.25,797.42M2319.70,1375.50L2307.20,1375.50M2319.70,1261.64L2307.20,1261.64M2319.70,1147.77L2307.20,1147.77M2319.70,1033.91L2307.20,1033.91M2319.70,920.05L2307.20,920.05M2319.70,806.18L2307.20,806.18" stroke="#555" stroke-width="1.9" fill="none"/>
<text class="s" transform="matrix(0.43200,0,0,0.43700,1413.45,1386.42)">0.0</text>
<text class="s" transform="matrix(0.43200,0,0,0.43700,1413.66,1290.08)">0.2</text>
<text class="s" transform="matrix(0.43200,0,0,0.43700,1412.60,1193.73)">0.4</text>
<text class="s" transform="matrix(0.43200,0,0,0.43700,1413.07,1097.38)">0.6</text>
<text class="s" transform="matrix(0.43200,0,0,0.43700,1413.23,1001.04)">0.8</text>
<text class="s" transform="matrix(0.43200,0,0,0.43700,1413.45,904.69)">1.0</text>
<text class="s" transform="matrix(0.43200,0,0,0.43700,1413.66,808.28)">1.2</text>
<text class="s" transform="matrix(0.42000,0,0,0.44700,2331.70,1386.95)">0</text>
<text class="s" transform="matrix(0.42000,0,0,0.44700,2331.70,1273.08)">20</text>
<text class="s" transform="matrix(0.42000,0,0,0.44700,2331.70,1159.22)">40</text>
<text class="s" transform="matrix(0.42000,0,0,0.44700,2331.70,1045.35)">60</text>
<text class="s" transform="matrix(0.42000,0,0,0.44700,2331.70,931.49)">80</text>
<text class="s" transform="matrix(0.42000,0,0,0.44700,2331.70,817.63)">100</text>
<text class="s" transform="matrix(0.39300,0,0,0.39500,1554.82,1417.44)">0</text>
<text class="s" transform="matrix(0.39300,0,0,0.39500,1712.71,1417.44)">20</text>
<text class="s" transform="matrix(0.39300,0,0,0.39500,1881.05,1417.44)">40</text>
<text class="s" transform="matrix(0.39300,0,0,0.39500,2048.44,1417.44)">60</text>
<text class="s" transform="matrix(0.39300,0,0,0.39500,2216.25,1417.44)">80</text>
<g transform="matrix(0,-0.52757,0.52680,0,1343.85,1303.98)"><text class="s" x="0" y="0">Cell growth (OD</text><text class="s" x="710.99" y="28.3" style="font-size:66.0px">600</text><text class="s" x="809.99" y="0">)</text></g>
<text class="s" transform="matrix(0,-0.53118,0.53250,0,2467.15,1350.51)">Phenol degradation (%)</text>
<text class="a" transform="matrix(0.40104,0,0,0.40698,1289.32,735.00)">E</text>
<rect x="1519" y="789.6" width="89.5" height="34.299999999999955" fill="#fff"/>
<rect x="1519" y="789.6" width="89.5" height="34.299999999999955" fill="none" stroke="#484848" stroke-width="1.9"/>
<text class="s" transform="matrix(0.41288,0,0,0.42121,1618.78,820.49)">OD</text>
<text class="s" transform="matrix(0.25565,0,0,0.26674,1678.93,836.54)">600</text>
<path d="M1518.2,870.1L1609.9,870.1" stroke="#3a3a3a" stroke-width="1.8"/>
<path d="M1563.60,850.45L1580.50,860.27L1580.50,879.93L1563.60,889.75L1546.70,879.93L1546.70,860.27Z" fill="#fff" stroke="#000" stroke-width="1.8"/><path d="M1546.70,870.10L1580.50,870.10L1580.50,879.93L1563.60,889.75L1546.70,879.93Z" fill="#000" stroke="#000" stroke-width="1.8" stroke-linejoin="miter"/>
<text class="s" transform="matrix(0.44170,0,0,0.41874,1617.37,883.15)">%</text>
<g clip-path="url(#clip5)">
<rect x="1547.33" y="2110.20" width="33.22" height="39.00" fill="#fff"/>
<path d="M1547.33,2110.20L1580.55,2143.41M1568.93,2110.20L1580.55,2121.81M1547.33,2131.80L1564.74,2149.20" stroke="#585858" stroke-width="1.2" fill="none"/>
<rect x="1547.33" y="2110.20" width="33.22" height="42.00" fill="none" stroke="#484848" stroke-width="1.9"/>
<path d="M1563.94,2109.18L1563.94,2111.21M1559.24,2109.18L1568.64,2109.18M1559.24,2111.21L1568.64,2111.21" stroke="#777" stroke-width="1.4" fill="none"/>
<rect x="1713.41" y="1998.76" width="33.22" height="150.44" fill="#fff"/>
<path d="M1713.41,1998.76L1746.63,2031.97M1735.01,1998.76L1746.63,2010.37M1713.41,2020.36L1746.63,2053.57M1713.41,2041.96L1746.63,2075.17M1713.41,2063.56L1746.63,2096.77M1713.41,2085.16L1746.63,2118.37M1713.41,2106.76L1746.63,2139.97M1713.41,2128.36L1734.25,2149.20" stroke="#585858" stroke-width="1.2" fill="none"/>
<rect x="1713.41" y="1998.76" width="33.22" height="153.44" fill="none" stroke="#484848" stroke-width="1.9"/>
<path d="M1730.02,1975.46L1730.02,2022.06M1725.32,1975.46L1734.72,1975.46M1725.32,2022.06L1734.72,2022.06" stroke="#777" stroke-width="1.4" fill="none"/>
<rect x="1879.49" y="2054.98" width="33.22" height="94.22" fill="#fff"/>
<path d="M1879.49,2054.98L1912.71,2088.20M1901.09,2054.98L1912.71,2066.60M1879.49,2076.58L1912.71,2109.80M1879.49,2098.18L1912.71,2131.40M1879.49,2119.78L1908.91,2149.20M1879.49,2141.38L1887.31,2149.20" stroke="#585858" stroke-width="1.2" fill="none"/>
<rect x="1879.49" y="2054.98" width="33.22" height="97.22" fill="none" stroke="#484848" stroke-width="1.9"/>
<path d="M1896.10,2036.75L1896.10,2073.22M1891.40,2036.75L1900.80,2036.75M1891.40,2073.22L1900.80,2073.22" stroke="#777" stroke-width="1.4" fill="none"/>
<rect x="2045.57" y="1769.30" width="33.22" height="379.90" fill="#fff"/>
<path d="M2045.57,1769.30L2078.79,1802.51M2067.17,1769.30L2078.79,1780.91M2045.57,1790.90L2078.79,1824.11M2045.57,1812.50L2078.79,1845.71M2045.57,1834.10L2078.79,1867.31M2045.57,1855.70L2078.79,1888.91M2045.57,1877.30L2078.79,1910.51M2045.57,1898.90L2078.79,1932.11M2045.57,1920.50L2078.79,1953.71M2045.57,1942.10L2078.79,1975.31M2045.57,1963.70L2078.79,1996.91M2045.57,1985.30L2078.79,2018.51M2045.57,2006.90L2078.79,2040.11M2045.57,2028.50L2078.79,2061.71M2045.57,2050.10L2078.79,2083.31M2045.57,2071.70L2078.79,2104.91M2045.57,2093.30L2078.79,2126.51M2045.57,2114.90L2078.79,2148.11M2045.57,2136.50L2058.28,2149.20" stroke="#585858" stroke-width="1.2" fill="none"/>
<rect x="2045.57" y="1769.30" width="33.22" height="382.90" fill="none" stroke="#484848" stroke-width="1.9"/>
<path d="M2062.18,1755.82L2062.18,1782.77M2057.48,1755.82L2066.88,1755.82M2057.48,1782.77L2066.88,1782.77" stroke="#777" stroke-width="1.4" fill="none"/>
<rect x="2211.65" y="1689.26" width="33.22" height="459.94" fill="#fff"/>
<path d="M2211.65,1689.26L2244.87,1722.48M2233.25,1689.26L2244.87,1700.88M2211.65,1710.86L2244.87,1744.08M2211.65,1732.46L2244.87,1765.68M2211.65,1754.06L2244.87,1787.28M2211.65,1775.66L2244.87,1808.88M2211.65,1797.26L2244.87,1830.48M2211.65,1818.86L2244.87,1852.08M2211.65,1840.46L2244.87,1873.68M2211.65,1862.06L2244.87,1895.28M2211.65,1883.66L2244.87,1916.88M2211.65,1905.26L2244.87,1938.48M2211.65,1926.86L2244.87,1960.08M2211.65,1948.46L2244.87,1981.68M2211.65,1970.06L2244.87,2003.28M2211.65,1991.66L2244.87,2024.88M2211.65,2013.26L2244.87,2046.48M2211.65,2034.86L2244.87,2068.08M2211.65,2056.46L2244.87,2089.68M2211.65,2078.06L2244.87,2111.28M2211.65,2099.66L2244.87,2132.88M2211.65,2121.26L2239.59,2149.20M2211.65,2142.86L2217.99,2149.20" stroke="#585858" stroke-width="1.2" fill="none"/>
<rect x="2211.65" y="1689.26" width="33.22" height="462.94" fill="none" stroke="#484848" stroke-width="1.9"/>
<path d="M2228.26,1671.38L2228.26,1707.14M2223.56,1671.38L2232.96,1671.38M2223.56,1707.14L2232.96,1707.14" stroke="#777" stroke-width="1.4" fill="none"/>
<path d="M1575.60,2146.34L1718.36,2111.35M1742.00,2107.76L1884.12,2099.05M1902.11,2087.93L2056.17,1821.66M2068.70,1801.20L2221.74,1564.83" stroke="#151515" stroke-width="2.4" fill="none"/>
<path d="M1563.94,2134.20L1567.91,2143.74L1578.21,2144.56L1570.36,2151.29L1572.76,2161.34L1563.94,2155.95L1555.12,2161.34L1557.52,2151.29L1549.67,2144.56L1559.97,2143.74Z" fill="#000"/>
<path d="M1730.02,2093.49L1733.99,2103.03L1744.29,2103.86L1736.44,2110.58L1738.84,2120.63L1730.02,2115.24L1721.20,2120.63L1723.60,2110.58L1715.75,2103.86L1726.05,2103.03Z" fill="#000"/>
<path d="M1896.10,2083.32L1900.07,2092.86L1910.37,2093.68L1902.52,2100.40L1904.92,2110.45L1896.10,2105.07L1887.28,2110.45L1889.68,2100.40L1881.83,2093.68L1892.13,2092.86Z" fill="#000"/>
<path d="M2062.18,1796.27L2066.15,1805.81L2076.45,1806.63L2068.60,1813.36L2071.00,1823.41L2062.18,1818.02L2053.36,1823.41L2055.76,1813.36L2047.91,1806.63L2058.21,1805.81Z" fill="#000"/>
<path d="M2228.26,1539.75L2232.23,1549.29L2242.53,1550.12L2234.68,1556.84L2237.08,1566.89L2228.26,1561.50L2219.44,1566.89L2221.84,1556.84L2213.99,1550.12L2224.29,1549.29Z" fill="#000"/>
</g>
<rect x="1480.9" y="1490.7" width="830.4000000000001" height="658.4999999999998" fill="none" stroke="#1c1c1c" stroke-width="2.7"/>
<path d="M1480.90,2149.20L1497.40,2149.20M1480.90,2047.89L1497.40,2047.89M1480.90,1946.58L1497.40,1946.58M1480.90,1845.28L1497.40,1845.28M1480.90,1743.97L1497.40,1743.97M1480.90,1642.66L1497.40,1642.66M1480.90,1541.35L1497.40,1541.35M2311.30,2149.20L2294.80,2149.20M2311.30,2029.47L2294.80,2029.47M2311.30,1909.75L2294.80,1909.75M2311.30,1790.02L2294.80,1790.02M2311.30,1670.29L2294.80,1670.29M2311.30,1550.56L2294.80,1550.56" stroke="#1c1c1c" stroke-width="2.7" fill="none"/>
<text class="s" transform="matrix(0.51900,0,0,0.50900,1398.20,2162.46)">0.0</text>
<text class="s" transform="matrix(0.51900,0,0,0.50900,1398.46,2061.16)">0.2</text>
<text class="s" transform="matrix(0.51900,0,0,0.50900,1397.19,1959.85)">0.4</text>
<text class="s" transform="matrix(0.51900,0,0,0.50900,1397.75,1858.54)">0.6</text>
<text class="s" transform="matrix(0.51900,0,0,0.50900,1397.95,1757.23)">0.8</text>
<text class="s" transform="matrix(0.51900,0,0,0.50900,1398.20,1655.93)">1.0</text>
<text class="s" transform="matrix(0.51900,0,0,0.50900,1398.46,1554.54)">1.2</text>
<text class="s" transform="matrix(0.58400,0,0,0.55800,2326.30,2164.28)">0</text>
<text class="s" transform="matrix(0.58400,0,0,0.55800,2326.30,2044.55)">20</text>
<text class="s" transform="matrix(0.58400,0,0,0.55800,2326.30,1924.83)">40</text>
<text class="s" transform="matrix(0.58400,0,0,0.55800,2326.30,1805.10)">60</text>
<text class="s" transform="matrix(0.58400,0,0,0.55800,2326.30,1685.37)">80</text>
<text class="s" transform="matrix(0.58400,0,0,0.55800,2326.30,1565.65)">100</text>
<text class="s" transform="matrix(0.53000,0,0,0.50700,1550.69,2202.01)">0</text>
<text class="s" transform="matrix(0.53000,0,0,0.50700,1703.42,2202.01)">20</text>
<text class="s" transform="matrix(0.53000,0,0,0.50700,1870.25,2202.01)">40</text>
<text class="s" transform="matrix(0.53000,0,0,0.50700,2035.78,2202.01)">60</text>
<text class="s" transform="matrix(0.53000,0,0,0.50700,2201.89,2202.01)">80</text>
<g transform="matrix(0,-0.52805,0.53087,0,1334.93,2058.68)"><text class="s" x="0" y="0">Cell growth (OD</text><text class="s" x="710.99" y="28.3" style="font-size:66.0px">600</text><text class="s" x="809.99" y="0">)</text></g>
<text class="s" transform="matrix(0,-0.53118,0.54016,0,2476.08,2108.81)">Phenol degradation (%)</text>
<text class="s" transform="matrix(0.50326,0,0,0.50621,1834.61,2273.12)">Time (h)</text>
<text class="a" transform="matrix(0.37944,0,0,0.42515,1289.46,1498.00)">F</text>
<rect x="1517.8" y="1523.9" width="85.79999999999995" height="32.19999999999982" fill="#fff"/>
<path d="M1517.80,1523.90L1550.00,1556.10M1539.20,1523.90L1571.40,1556.10M1560.60,1523.90L1592.80,1556.10M1582.00,1523.90L1603.60,1545.50M1517.80,1545.30L1528.60,1556.10" stroke="#585858" stroke-width="1.2" fill="none"/>
<rect x="1517.8" y="1523.9" width="85.79999999999995" height="32.19999999999982" fill="none" stroke="#484848" stroke-width="1.9"/>
<text class="s" transform="matrix(0.40076,0,0,0.41526,1614.44,1552.19)">OD</text>
<text class="s" transform="matrix(0.25565,0,0,0.25933,1672.83,1568.15)">600</text>
<path d="M1515.4,1602.2L1606,1602.2" stroke="#3a3a3a" stroke-width="1.8"/>
<path d="M1560.70,1582.60L1566.04,1595.45L1579.91,1596.56L1569.35,1605.61L1572.57,1619.14L1560.70,1611.89L1548.83,1619.14L1552.05,1605.61L1541.49,1596.56L1555.36,1595.45Z" fill="#000"/>
<text class="s" transform="matrix(0.44170,0,0,0.41137,1612.87,1614.86)">%</text></svg>
</body></html>
